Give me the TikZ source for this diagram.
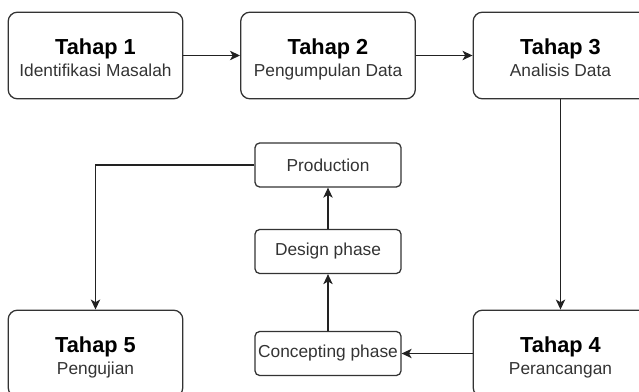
\documentclass[tikz,border=0pt]{standalone}
\usepackage{fontspec}
\setmainfont{Liberation Sans}
\usetikzlibrary{arrows.meta}

\begin{document}
\begin{tikzpicture}[x=0.75pt,y=0.75pt,yscale=-1,xscale=1,
	tahap/.style={draw={rgb, 255:red, 51; green, 51; blue, 51 },line width=0.95pt,rounded corners=7pt,
		minimum width=131pt,minimum height=65pt,inner sep=0pt,align=center,
		text={rgb, 255:red, 51; green, 51; blue, 51 },font=\fontsize{13}{16}\selectfont},
	fase/.style={draw={rgb, 255:red, 51; green, 51; blue, 51 },line width=0.95pt,rounded corners=3.5pt,
		minimum width=109.5pt,minimum height=33pt,inner sep=0pt,
		text={rgb, 255:red, 51; green, 51; blue, 51 },font=\fontsize{13}{16}\selectfont},
	panah/.style={draw={rgb, 255:red, 34; green, 34; blue, 34 },line width=0.95pt,-{Stealth[length=7.5pt,width=7pt,inset=2pt]}}]
	\useasboundingbox (0,0) rectangle (639,392);
	
	%tahap utama
	\node [tahap] (t1) at (95.5,55.5) {\rule{0pt}{20pt}\textcolor{black}{\bfseries\fontsize{16.3}{16}\selectfont Tahap 1}\\\strut Identifikasi Masalah};
	\node [tahap] (t2) at (328,55.5) {\rule{0pt}{20pt}\textcolor{black}{\bfseries\fontsize{16.3}{16}\selectfont Tahap 2}\\\strut Pengumpulan Data};
	\node [tahap] (t3) at (560.5,55.5) {\rule{0pt}{20pt}\textcolor{black}{\bfseries\fontsize{16.3}{16}\selectfont Tahap 3}\\\strut Analisis Data};
	\node [tahap] (t4) at (560.5,353.5) {\rule{0pt}{20pt}\textcolor{black}{\bfseries\fontsize{16.3}{16}\selectfont Tahap 4}\\\strut Perancangan};
	\node [tahap] (t5) at (95.5,353.5) {\rule{0pt}{20pt}\textcolor{black}{\bfseries\fontsize{16.3}{16}\selectfont Tahap 5}\\\strut Pengujian};
	
	%fase perancangan
	\node [fase] (prod) at (328,165) {Production};
	\node [fase] (desain) at (328,251.5) {Design phase};
	\node [fase] (konsep) at (328,353.5) {Concepting phase};
	
	\draw [panah] (t1) -- (t2);
	\draw [panah] (t2) -- (t3);
	\draw [panah] (t3) -- (t4);
	\draw [panah] (t4) -- (konsep);
	\draw [panah] (konsep) -- (desain);
	\draw [panah] (desain) -- (prod);
	\draw [panah] (prod.west) -| (t5.north);
	
\end{tikzpicture}
\end{document}
